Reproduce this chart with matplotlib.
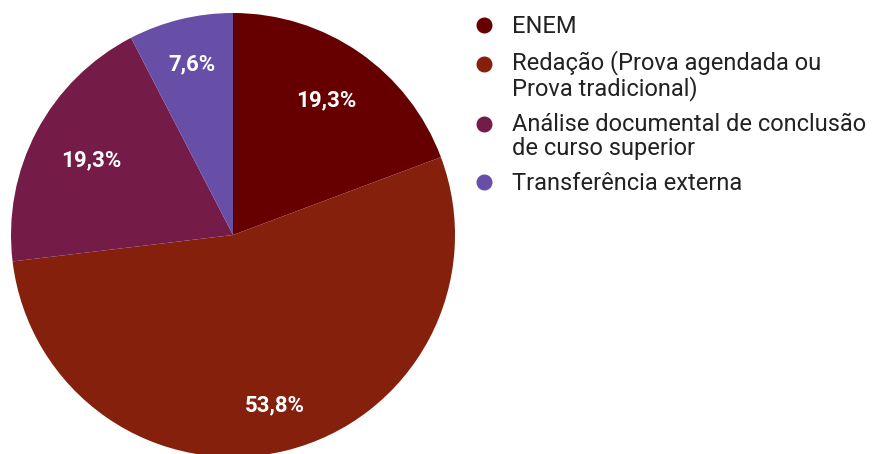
import matplotlib
matplotlib.use("Agg")
import matplotlib.pyplot as plt
from matplotlib.lines import Line2D
from matplotlib.legend_handler import HandlerLine2D
import math

plt.rcParams['font.family'] = ['Roboto', 'DejaVu Sans']

labels = [
    "ENEM",
    "Redação (Prova agendada ou\nProva tradicional)",
    "Análise documental de conclusão\nde curso superior",
    "Transferência externa",
]
values = [19.3, 53.8, 19.3, 7.6]
pct_text = ["19,3%", "53,8%", "19,3%", "7,6%"]
colors = ["#660000", "#85200c", "#741b47", "#674ea7"]


class TopLineHandler(HandlerLine2D):
    # moves the marker up to the first line of a two-line label
    def __init__(self, shift, **kw):
        super().__init__(**kw)
        self.shift = shift

    def create_artists(self, legend, orig_handle, xdescent, ydescent,
                       width, height, fontsize, trans):
        arts = super().create_artists(legend, orig_handle, xdescent, ydescent,
                                      width, height, fontsize, trans)
        for a in arts:
            a.set_ydata([y + self.shift * fontsize for y in a.get_ydata()])
        return arts


fig = plt.figure(figsize=(8.72, 4.54), dpi=100)
ax = fig.add_axes([11 / 872, (219 - 222) / 454, 444 / 872, 444 / 454])

wedges, _ = ax.pie(values, colors=colors, startangle=90, counterclock=False,
                   radius=1, wedgeprops=dict(linewidth=0))
ax.set_xlim(-1, 1)
ax.set_ylim(-1, 1)
ax.set_aspect('equal')

# label distance from centre, per wedge
label_r = [0.74, 0.79, 0.72, 0.79]
for w, txt, r in zip(wedges, pct_text, label_r):
    ang = math.radians((w.theta1 + w.theta2) / 2)
    ax.text(r * math.cos(ang), r * math.sin(ang), txt, ha='center', va='center',
            color='white', fontsize=16, fontweight='bold')

handles = [Line2D([], [], marker='o', linestyle='none', markersize=10.5,
                  markerfacecolor=c, markeredgecolor=c) for c in colors]
hmap = {h: TopLineHandler(0.53) for h, l in zip(handles, labels) if "\n" in l}
leg = fig.legend(handles, labels, loc='upper left', bbox_to_anchor=(0.541, 0.967),
                 frameon=False, fontsize=17, handletextpad=0.69, labelspacing=0.52,
                 handlelength=1.0, borderaxespad=0, borderpad=0, labelcolor='#222222',
                 handler_map=hmap)
for t in leg.get_texts():
    t.set_linespacing(1.03)

fig.savefig("out.png", dpi=100)
